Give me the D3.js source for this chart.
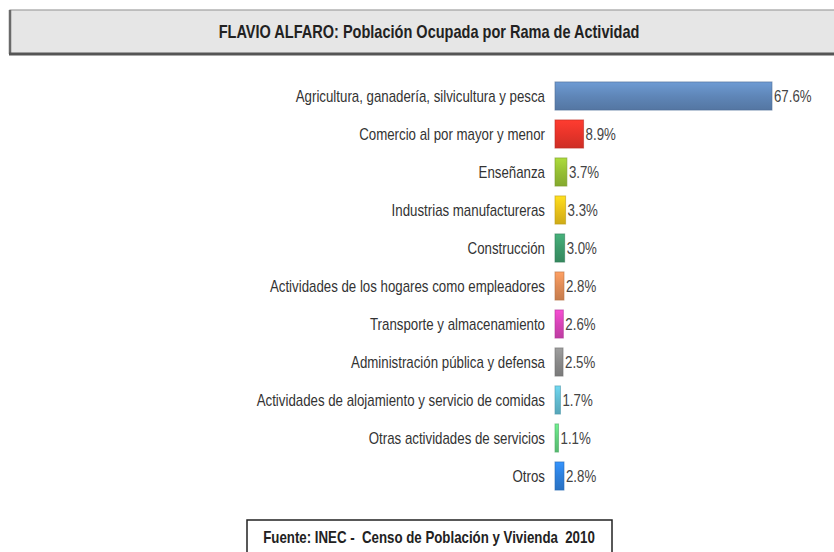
<!DOCTYPE html>
<html>
<head>
<meta charset="utf-8">
<script src="https://cdn.jsdelivr.net/npm/d3@7"></script>
<style>
  html, body { margin: 0; padding: 0; background: #fff; }
  svg { display: block; }
</style>
</head>
<body>
<svg id="chart" width="834" height="552"></svg>
<script>
const titleText = "FLAVIO ALFARO: Población Ocupada por Rama de Actividad";
const sourceText = "Fuente: INEC -  Censo de Población y Vivienda  2010";
const categories = [
  "Agricultura, ganadería, silvicultura y pesca",
  "Comercio al por mayor y menor",
  "Enseñanza",
  "Industrias manufactureras",
  "Construcción",
  "Actividades de los hogares como empleadores",
  "Transporte y almacenamiento",
  "Administración pública y defensa",
  "Actividades de alojamiento y servicio de comidas",
  "Otras actividades de servicios",
  "Otros"
];
const values = [67.6, 8.9, 3.7, 3.3, 3.0, 2.8, 2.6, 2.5, 1.7, 1.1, 2.8];
const colors = ["#5f86b8", "#e8342a", "#96bf34", "#e9c21a", "#3d9a6b", "#e08c57", "#d744b8", "#8a8a8a", "#62bcd2", "#62d27e", "#2e80dc"];

const FONT = "'Liberation Sans Narrow', 'Arial Narrow', 'Liberation Sans', Arial, sans-serif";
const SX = 0.83; // horizontal condensation to mimic Arial Narrow
const svg = d3.select("#chart");
const defs = svg.append("defs");

function narrowText(sel, x, y) {
  return sel.attr("transform", `translate(${x},${y}) scale(${SX},1)`).attr("x", 0).attr("y", 0);
}

// title box
svg.append("rect").attr("x", 10).attr("y", 10).attr("width", 840).attr("height", 44)
  .attr("fill", "#e6e6e6").attr("stroke", "#a0a0a0").attr("stroke-width", 1.2);
svg.append("line").attr("x1", 10).attr("x2", 10).attr("y1", 10).attr("y2", 54)
  .attr("stroke", "#6a6a6a").attr("stroke-width", 2.5);
svg.append("line").attr("x1", 9).attr("x2", 850).attr("y1", 54).attr("y2", 54)
  .attr("stroke", "#555").attr("stroke-width", 3);
narrowText(svg.append("text"), 429, 38).attr("text-anchor", "middle")
  .attr("font-family", FONT).attr("font-weight", "bold").attr("font-size", 17.5)
  .attr("fill", "#222").text(titleText);

const y = d3.scaleBand().domain(categories).range([77, 495]).paddingInner(0.26).paddingOuter(0.13);
const x = d3.scaleLinear().domain([0, 100]).range([555, 876]);

colors.forEach((c, i) => {
  const g = defs.append("linearGradient").attr("id", "g" + i)
    .attr("x1", 0).attr("y1", 0).attr("x2", 0).attr("y2", 1);
  g.append("stop").attr("offset", "0%").attr("stop-color", d3.color(c).brighter(0.4));
  g.append("stop").attr("offset", "50%").attr("stop-color", c);
  g.append("stop").attr("offset", "100%").attr("stop-color", d3.color(c).darker(0.35));
});

const rows = svg.append("g").selectAll("g").data(categories).join("g");
rows.append("rect")
  .attr("x", x(0))
  .attr("y", d => y(d))
  .attr("width", (d, i) => x(values[i]) - x(0))
  .attr("height", y.bandwidth())
  .attr("fill", (d, i) => `url(#g${i})`)
  .attr("stroke", (d, i) => d3.color(colors[i]).darker(0.6))
  .attr("stroke-opacity", 0.6)
  .attr("stroke-width", 1);

rows.append("text")
  .each(function (d) { narrowText(d3.select(this), 545, y(d) + y.bandwidth() / 2); })
  .attr("dy", "0.35em")
  .attr("text-anchor", "end")
  .attr("font-family", FONT).attr("font-size", 16).attr("fill", "#333")
  .text(d => d);

rows.append("text")
  .each(function (d, i) { narrowText(d3.select(this), x(values[i]) + 2, y(d) + y.bandwidth() / 2); })
  .attr("dy", "0.35em")
  .attr("font-family", FONT).attr("font-size", 16).attr("fill", "#444")
  .text((d, i) => values[i].toFixed(1) + "%");

// source box
svg.append("rect").attr("x", 247).attr("y", 520).attr("width", 365).attr("height", 40)
  .attr("fill", "#fff").attr("stroke", "#222").attr("stroke-width", 1.5);
narrowText(svg.append("text"), 429, 543).attr("text-anchor", "middle")
  .attr("font-family", FONT).attr("font-weight", "bold").attr("font-size", 16)
  .attr("xml:space", "preserve").style("white-space", "pre")
  .attr("fill", "#222").text(sourceText);
</script>
</body>
</html>
